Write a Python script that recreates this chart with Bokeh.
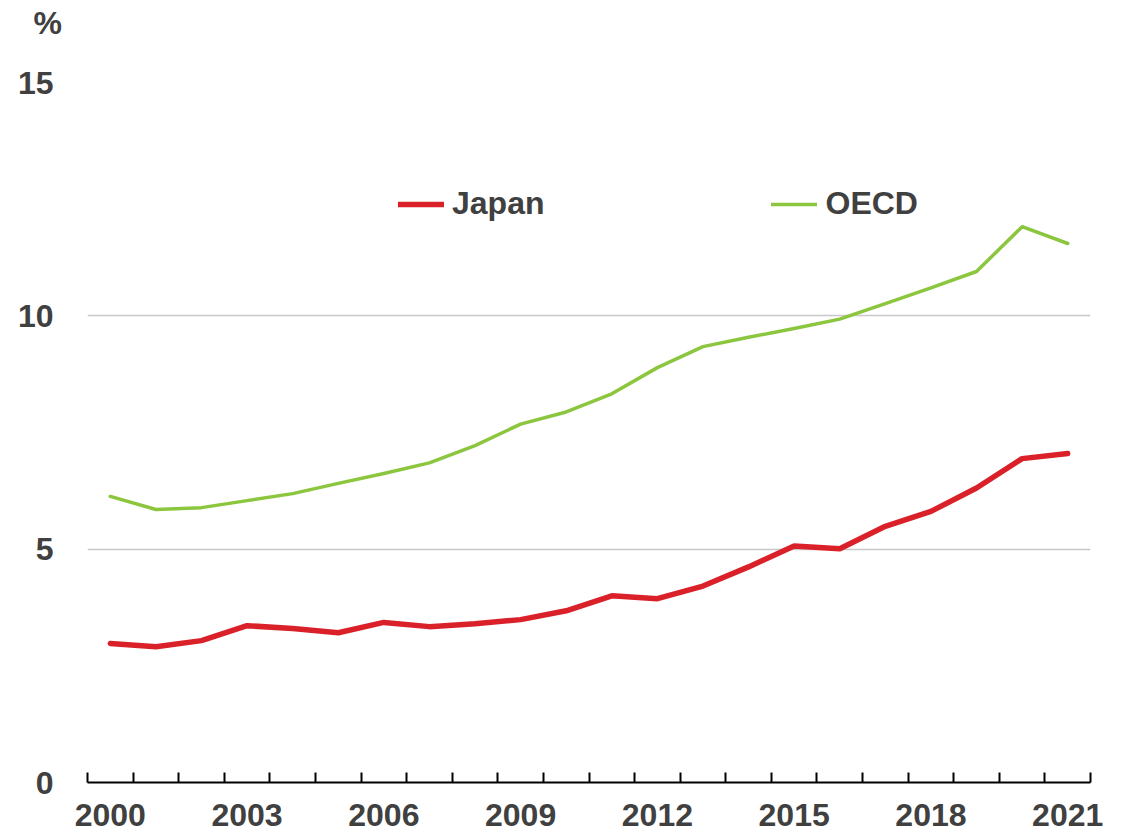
from bokeh.plotting import figure
from bokeh.models import Range1d, FixedTicker, Legend, LegendItem, Title
from bokeh.embed import file_html
from bokeh.resources import INLINE

years = list(range(2000, 2022))
japan = [2.98, 2.91, 3.04, 3.36, 3.30, 3.21, 3.43, 3.34, 3.40, 3.49, 3.68, 4.00, 3.94, 4.21, 4.62, 5.07, 5.01, 5.49, 5.81, 6.31, 6.94, 7.05]
oecd = [6.13, 5.85, 5.89, 6.04, 6.19, 6.41, 6.62, 6.85, 7.22, 7.68, 7.94, 8.33, 8.89, 9.34, 9.54, 9.73, 9.93, 10.26, 10.60, 10.95, 11.91, 11.55]
x_tick_years = [2000, 2003, 2006, 2009, 2012, 2015, 2018, 2021]
y_ticks = [0, 5, 10, 15]
y_grid = [5, 10, 15]
unit_label = "%"

FONT = "Liberation Sans"
TXT = "#404040"
RED = "#DA2129"
GREEN = "#8CC63F"

p = figure(width=1130, height=835, output_backend="svg", toolbar_location=None, title=None,
           x_range=Range1d(years[0] - 0.5, years[-1] + 0.5), y_range=Range1d(0, 15),
           min_border_left=87, min_border_right=40, min_border_top=82, min_border_bottom=53)
p.outline_line_color = None
p.background_fill_color = "white"

# spacer panel (closest to the frame) then the unit label above it
spacer = Title(text=" ", text_font_size="10px", standoff=28)
p.add_layout(spacer, "above")
unit_title = Title(text=unit_label, align="left", offset=-54, standoff=2,
                   text_font=FONT, text_font_size="32px", text_font_style="bold",
                   text_color=TXT)
p.add_layout(unit_title, "above")

r_jp = p.line(years, japan, line_color=RED, line_width=5.5, line_cap="round", line_join="round")
r_oe = p.line(years, oecd, line_color=GREEN, line_width=3.5, line_cap="round", line_join="round")

xa = p.xaxis[0]
xa.ticker = FixedTicker(ticks=x_tick_years, minor_ticks=[y - 0.5 for y in years] + [years[-1] + 0.5])
xa.major_label_overrides = {y: str(y) for y in x_tick_years}
xa.major_tick_in = 0
xa.major_tick_out = 0
xa.minor_tick_in = 10
xa.minor_tick_out = 0
xa.minor_tick_line_color = "black"
xa.minor_tick_line_width = 2
xa.axis_line_color = "black"
xa.axis_line_width = 2
xa.major_label_standoff = 21
xa.major_label_text_font = FONT
xa.major_label_text_font_size = "32px"
xa.major_label_text_font_style = "bold"
xa.major_label_text_color = TXT

ya = p.yaxis[0]
ya.ticker = FixedTicker(ticks=y_ticks)
ya.axis_line_color = None
ya.major_tick_line_color = None
ya.minor_tick_line_color = None
ya.major_label_standoff = 28
ya.major_label_text_font = FONT
ya.major_label_text_font_size = "32px"
ya.major_label_text_font_style = "bold"
ya.major_label_text_color = TXT

p.xgrid.grid_line_color = None
p.ygrid.ticker = FixedTicker(ticks=y_grid)
p.ygrid.grid_line_color = "#C8C8C8"
p.ygrid.grid_line_width = 1.5

legend = Legend(items=[LegendItem(label="Japan", renderers=[r_jp]),
                       LegendItem(label="OECD", renderers=[r_oe])],
                orientation="horizontal", location=(311, 560), spacing=227,
                glyph_width=46, label_standoff=8, padding=0, margin=0,
                border_line_color=None, background_fill_alpha=0,
                label_text_font=FONT, label_text_font_size="32px",
                label_text_font_style="bold", label_text_color=TXT)
p.add_layout(legend)

open("out.html", "w").write(file_html(p, INLINE))
